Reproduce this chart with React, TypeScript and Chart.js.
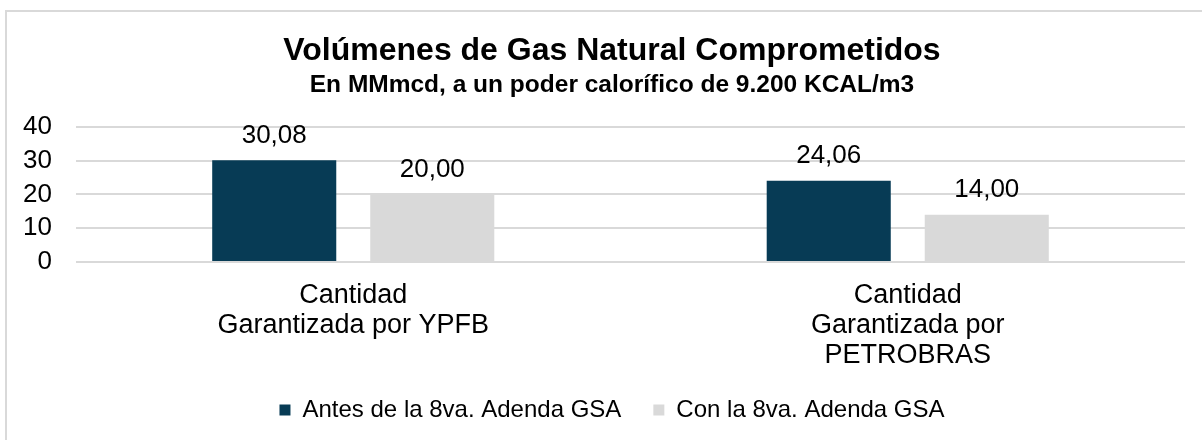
import React, { useEffect, useRef } from "react";
import { Chart, registerables } from "chart.js";

Chart.register(...registerables);

const categories: string[][] = [
  ["Cantidad", "Garantizada por YPFB"],
  ["Cantidad", "Garantizada por", "PETROBRAS"],
];
const seriesNames = ["Antes de la 8va. Adenda GSA", "Con la 8va. Adenda GSA"];
const antesValues = [30.08, 24.06];
const conValues = [20.0, 14.0];
const seriesColors = ["#073B55", "#D9D9D9"];
const titleText = "Volúmenes de Gas Natural Comprometidos";
const subtitleText = "En MMmcd, a un poder calorífico de 9.200 KCAL/m3";
const yMin = 0;
const yMax = 40;
const yStep = 10;

const FONT = "'Liberation Sans', Arial, Helvetica, sans-serif";
const CANVAS_W = 1202;
const CANVAS_H = 440;
const PAD_BOTTOM = 8;
const PLOT_BOTTOM = 262;

const valueLabels = {
  id: "valueLabels",
  afterLayout(chart: any) {
    // let the y-axis tick labels extend into the left padding without clipping
    if (chart.scales.y) chart.scales.y.left = 0;
  },
  afterDatasetsDraw(chart: any) {
    const ctx = chart.ctx;
    ctx.save();
    ctx.font = `26px ${FONT}`;
    ctx.fillStyle = "#000";
    ctx.textAlign = "center";
    ctx.textBaseline = "middle";
    chart.data.datasets.forEach((ds: any, i: number) => {
      const meta = chart.getDatasetMeta(i);
      meta.data.forEach((bar: any, j: number) => {
        const v = ds.data[j] as number;
        ctx.fillText(v.toFixed(2).replace(".", ","), bar.x, bar.y - 25);
      });
    });
    ctx.restore();
  },
};

export default function App() {
  const ref = useRef<HTMLCanvasElement>(null);
  useEffect(() => {
    if (!ref.current) return;
    Chart.defaults.font.family = FONT;
    Chart.defaults.color = "#000";
    const chart = new Chart(ref.current, {
      type: "bar",
      data: {
        labels: categories,
        datasets: [
          {
            label: seriesNames[0],
            data: antesValues,
            backgroundColor: seriesColors[0],
            categoryPercentage: 0.57,
            barPercentage: 0.785,
          },
          {
            label: seriesNames[1],
            data: conValues,
            backgroundColor: seriesColors[1],
            categoryPercentage: 0.57,
            barPercentage: 0.785,
          },
        ],
      },
      options: {
        responsive: false,
        animation: false,
        layout: { padding: { top: 0, left: 39, right: 17, bottom: PAD_BOTTOM } },
        plugins: {
          title: {
            display: true,
            text: titleText,
            color: "#000",
            font: { size: 32, weight: "bold", family: FONT },
            padding: { top: 32, bottom: 0 },
          },
          subtitle: {
            display: true,
            text: subtitleText,
            color: "#000",
            font: { size: 24.5, weight: "bold", family: FONT },
            padding: { top: 0, bottom: 27 },
          },
          legend: {
            position: "bottom",
            labels: {
              boxWidth: 11,
              boxHeight: 11,
              padding: 32,
              color: "#000",
              font: { size: 24, family: FONT },
            },
          },
          tooltip: { enabled: false },
        },
        scales: {
          x: {
            grid: { display: false, drawTicks: false },
            border: { display: false },
            ticks: {
              padding: 19,
              color: "#000",
              maxRotation: 0,
              autoSkip: false,
              font: { size: 27, family: FONT, lineHeight: 1.11 },
            },
            afterFit: (scale: any) => {
              const lg = scale.chart.legend;
              const lh = lg && lg.height ? lg.height : 0;
              scale.height = CANVAS_H - PAD_BOTTOM - lh - PLOT_BOTTOM;
            },
          },
          y: {
            min: yMin,
            max: yMax,
            grid: { color: "#D9D9D9", lineWidth: 2, drawTicks: false },
            border: { display: false },
            ticks: {
              stepSize: yStep,
              autoSkip: false,
              padding: 24,
              color: "#000",
              font: { size: 26, family: FONT },
            },
            afterFit: (scale: any) => {
              scale.width = 37;
            },
          },
        },
      },
      plugins: [valueLabels],
    });
    return () => chart.destroy();
  }, []);

  return (
    <div>
      <div
        style={{
          position: "absolute",
          left: 5,
          top: 10,
          width: 1197,
          height: 430,
          boxSizing: "border-box",
          borderLeft: "2px solid #D9D9D9",
          borderTop: "2px solid #D9D9D9",
          background: "#fff",
        }}
      />
      <canvas
        ref={ref}
        width={CANVAS_W}
        height={CANVAS_H}
        style={{ position: "absolute", left: 0, top: 0 }}
      />
    </div>
  );
}
